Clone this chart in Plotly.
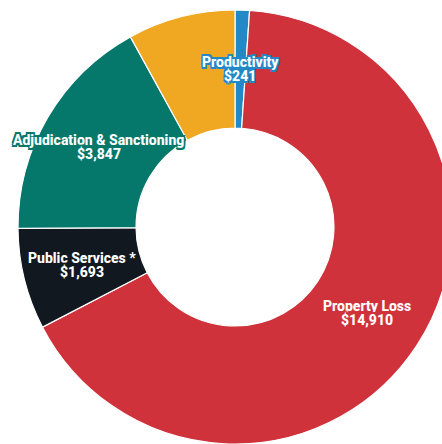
import math
import plotly.graph_objects as go

# Cost categories, listed clockwise from 12 o'clock
categories = ["Productivity", "Property Loss", "Public Services *",
              "Adjudication & Sanctioning", "Other"]
amounts = [241, 14910, 1693, 3847, 1800]
slice_colors = ["#2289C6", "#D0323B", "#121820", "#05776B", "#F0A823"]
show_label = [True, True, True, True, False]

W, H = 470, 454          # figure size in px
cx, cy, R = 235, 227, 217  # ring centre (from top-left) and outer radius, px
HOLE = 0.456


def outline(color, w=1.6):
    offs = [(-w, -w), (0, -w), (w, -w), (-w, 0), (w, 0), (-w, w), (0, w), (w, w)]
    return ", ".join(f"{dx}px {dy}px 0.5px {color}" for dx, dy in offs)


fig = go.Figure(go.Pie(
    labels=categories,
    values=amounts,
    sort=False,
    direction="clockwise",
    rotation=0,
    hole=HOLE,
    marker=dict(colors=slice_colors, line=dict(color="white", width=1.2)),
    textinfo="none",
    hoverinfo="label+value",
    domain=dict(x=[(cx - R) / W, (cx + R) / W],
                y=[(H - cy - R) / H, (H - cy + R) / H]),
))

# Two-line labels centred on each slice's mid-angle, halfway across the ring
total = sum(amounts)
r_mid = R * (1 + HOLE) / 2
start = 0.0
for name, val, col, show in zip(categories, amounts, slice_colors, show_label):
    frac = val / total
    theta = math.radians((start + frac / 2) * 360)
    start += frac
    if not show:
        continue
    x = (cx + r_mid * math.sin(theta)) / W
    y = (H - cy + r_mid * math.cos(theta)) / H
    font = dict(family="Roboto", size=14, color="white", weight=800,
                shadow=outline(col))
    for txt, shift in ((name, 7), (f"${val:,}", -7)):
        fig.add_annotation(x=x, y=y, xref="paper", yref="paper",
                           text=txt, showarrow=False, yshift=shift,
                           xanchor="center", yanchor="middle", font=font)

fig.update_layout(
    width=W, height=H,
    margin=dict(l=0, r=0, t=0, b=0),
    showlegend=False,
    paper_bgcolor="white",
    plot_bgcolor="white",
)

fig.write_html(
    "out.html",
    config={"displayModeBar": False},
    post_script="document.body.style.margin='0';"
                "document.body.style.overflow='hidden';"
                "document.documentElement.style.overflow='hidden';",
)
